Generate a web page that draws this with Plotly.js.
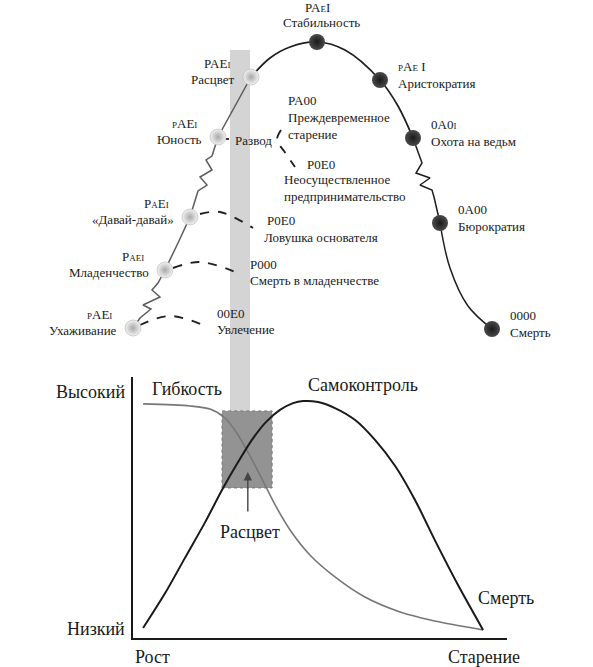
<!DOCTYPE html>
<html>
<head>
<meta charset="utf-8">
<script src="https://cdn.plot.ly/plotly-3.0.1.min.js"></script>
<style>
  html, body { margin: 0; padding: 0; background: #fff; }
  #chart { width: 593px; height: 667px; }
</style>
</head>
<body>
<div id="chart"></div>
<script>
// --- lifecycle stages (upper diagram, page pixels) ---
var stageNames = ["Ухаживание", "Младенчество", "«Давай-давай»", "Юность", "Расцвет",
                  "Стабильность", "Аристократия", "Охота на ведьм", "Бюрократия", "Смерть"];
var stageCodes = ["pAEi", "Paei", "PaEi", "pAEi", "PAEi",
                  "PAeI", "pAe I", "0A0i", "0A00", "0000"];   // lower case = small letter
var stageX = [133, 165, 190, 218, 251, 317, 380, 413, 440, 492];
var stageY = [328, 270, 217, 137, 77, 42, 80, 138, 223, 329];
var stageSide = ["left", "left", "left", "left", "left", "top", "right", "right", "right", "right"];

// growth path, with zigzags
var growX = [133, 140, 151, 143, 160, 152, 158, 165, 178, 190, 198, 207, 200, 212, 206, 212, 218, 251];
var growY = [328, 318, 309, 305, 297, 290, 283, 270, 243, 217, 191, 185, 177, 170, 160, 156, 137, 77];
// ageing path
var ageTopX = [251, 270, 290, 317, 345, 380, 398, 413];
var ageTopY = [77, 58, 47, 42, 50, 80, 106, 138];
var zigX = [413, 422, 416, 430, 420, 432, 434, 440];
var zigY = [138, 163, 173, 178, 185, 190, 197, 223];
var ageEndX = [440, 450, 468, 492];
var ageEndY = [223, 268, 306, 329];

// failure paths (dashed)
var trapCodes = ["00E0", "P000", "P0E0", "PA00", "P0E0"];
var trapNames = ["Увлечение", "Смерть в младенчестве", "Ловушка основателя",
                 "Преждевременное<br>старение", "Неосуществленное<br>предпринимательство"];
var trapArcX = [[140, 170, 208], [173, 200, 238], [200, 220, 253], [281, 277, 284, 295]];
var trapArcY = [[325, 316, 327], [268, 262, 273], [214, 212, 228], [130, 140, 151, 167]];

// --- lower chart: flexibility vs control ---
var flexX = [2.7, 15.2, 20.6, 24.6, 28.1, 31.3, 34.5, 38.0, 42.0, 47.3, 54.0, 62.0, 71.4, 82.1, 93.6];
var flexY = [89.7, 88.9, 87.7, 84.3, 77.8, 69.7, 60.9, 51.0, 41.4, 31.8, 23.4, 15.7, 10.0, 6.1, 3.1];
var ctrlX = [2.7, 8.6, 13.9, 19.3, 23.8, 28.1, 31.8, 35.6, 39.3, 42.8, 45.5, 49.5, 54.0, 59.4,
             64.7, 70.1, 75.4, 80.7, 86.9, 93.6];
var ctrlY = [3.8, 17.2, 30.7, 44.4, 56.7, 67.4, 75.9, 82.8, 87.4, 90.0, 90.8, 90.4, 88.1, 83.5,
             75.9, 65.9, 52.9, 37.5, 20.3, 3.1];
var primeZone = {x: [23.8, 37.2], y: [57.5, 87.0]};

var FONT = "Liberation Serif, Times New Roman, serif";

function code(t) {
  // lower-case letters are drawn as small capitals
  var out = "";
  for (var i = 0; i < t.length; i++) {
    var c = t[i];
    if (c >= "a" && c <= "z") out += '<span style="font-size:9px">' + c.toUpperCase() + '</span>';
    else out += c;
  }
  return out;
}

var data = [
  {x: growX, y: growY, mode: "lines", line: {color: "#5c5c5c", width: 1.5}},
  {x: ageTopX, y: ageTopY, mode: "lines", line: {color: "#1e1e1e", width: 1.7, shape: "spline"}},
  {x: zigX, y: zigY, mode: "lines", line: {color: "#1e1e1e", width: 1.5}},
  {x: ageEndX, y: ageEndY, mode: "lines", line: {color: "#1e1e1e", width: 1.5, shape: "spline"}},
  {x: [226, 231], y: [139, 139], mode: "lines", line: {color: "#222", width: 1.8, dash: "dot"}}
];
trapArcX.forEach(function (ax, i) {
  data.push({x: ax, y: trapArcY[i], mode: "lines",
    line: {color: "#222", width: 1.9, dash: "dash", shape: "spline"}});
});
data.push({
  x: stageX.slice(0, 5), y: stageY.slice(0, 5), mode: "markers",
  marker: {size: 16, color: "#f2f2f2", gradient: {type: "radial", color: "#a9a9a9"},
    line: {width: 0.6, color: "#b5b5b5"}}
});
data.push({
  x: stageX.slice(5), y: stageY.slice(5), mode: "markers",
  marker: {size: 16, color: "#4a4a4a", gradient: {type: "radial", color: "#1a1a1a"}}
});
data.push({x: flexX, y: flexY, mode: "lines", xaxis: "x2", yaxis: "y2",
  line: {color: "#777", width: 1.6, shape: "spline", smoothing: 0.8}});
data.push({x: ctrlX, y: ctrlY, mode: "lines", xaxis: "x2", yaxis: "y2",
  line: {color: "#1a1a1a", width: 2, shape: "spline", smoothing: 0.8}});

var ann = [];
function txt(x, y, s, anchor, size) {
  ann.push({x: x, y: y, xref: "x", yref: "y", text: s, showarrow: false,
    xanchor: anchor || "left", yanchor: "middle", align: anchor || "left",
    font: {family: FONT, size: size || 13, color: "#1a1a1a"}});
}

stageNames.forEach(function (n, i) {
  var x = stageX[i], y = stageY[i];
  if (stageSide[i] === "left") {
    txt(x - 19, y - 14, code(stageCodes[i]), "right");
    txt(x - 14, y + 2, n, "right");
  } else if (stageSide[i] === "top") {
    txt(x, y - 35, code(stageCodes[i]), "center");
    txt(x + 4, y - 20, n, "center");
  } else {
    txt(x + 16, y - 14, code(stageCodes[i]), "left");
    txt(x + 16, y + 3, n, "left");
  }
});

// failure labels
txt(215, 313, trapCodes[0]); txt(215, 329, trapNames[0]);
txt(248, 264, trapCodes[1]); txt(248, 280, trapNames[1]);
txt(265, 220, trapCodes[2]); txt(262, 237, trapNames[2]);
txt(286, 100, trapCodes[3]); txt(286, 126, trapNames[3]);
txt(305, 164, trapCodes[4]); txt(282, 188, trapNames[4]);
txt(233, 140, "Развод");

// lower chart labels
txt(127, 392, "Высокий", "right", 18);
txt(150, 389, "Гибкость", "left", 18);
txt(306, 385, "Самоконтроль", "left", 18);
txt(476, 598, "Смерть", "left", 18);
txt(127, 629, "Низкий", "right", 18);
txt(133, 657, "Рост", "left", 18);
txt(522, 657, "Старение", "right", 18);
txt(250, 532, "Расцвет", "center", 18);

ann.push({x: 30.7, y: 63.6, xref: "x2", yref: "y2", ax: 30.7, ay: 47.9, axref: "x2", ayref: "y2",
  text: "", showarrow: true, arrowhead: 2, arrowsize: 1.2, arrowwidth: 1.4, arrowcolor: "#444"});

var layout = {
  width: 593, height: 667,
  margin: {l: 0, r: 0, t: 0, b: 0},
  paper_bgcolor: "#fff", plot_bgcolor: "rgba(0,0,0,0)",
  showlegend: false,
  xaxis: {range: [0, 593], domain: [0, 1], visible: false, fixedrange: true},
  yaxis: {range: [667, 0], domain: [0, 1], visible: false, fixedrange: true},
  xaxis2: {range: [0, 100], domain: [133 / 593, 507 / 593], anchor: "y2",
    showline: true, linecolor: "#1a1a1a", linewidth: 2, showgrid: false, zeroline: false,
    showticklabels: false, ticks: ""},
  yaxis2: {range: [0, 100], domain: [29 / 667, 290 / 667], anchor: "x2",
    showline: true, linecolor: "#1a1a1a", linewidth: 2, showgrid: false, zeroline: false,
    showticklabels: false, ticks: ""},
  shapes: [
    {type: "rect", xref: "x", yref: "y", x0: 230, x1: 250, y0: 50, y1: 411,
      fillcolor: "#d4d4d4", line: {width: 0}, layer: "below"},
    {type: "rect", xref: "x2", yref: "y2", x0: primeZone.x[0], x1: primeZone.x[1],
      y0: primeZone.y[0], y1: primeZone.y[1],
      fillcolor: "#939393", line: {color: "#777", width: 1, dash: "dot"}, layer: "below"}
  ],
  annotations: ann
};

Plotly.newPlot("chart", data, layout, {displayModeBar: false, staticPlot: true});
</script>
</body>
</html>
